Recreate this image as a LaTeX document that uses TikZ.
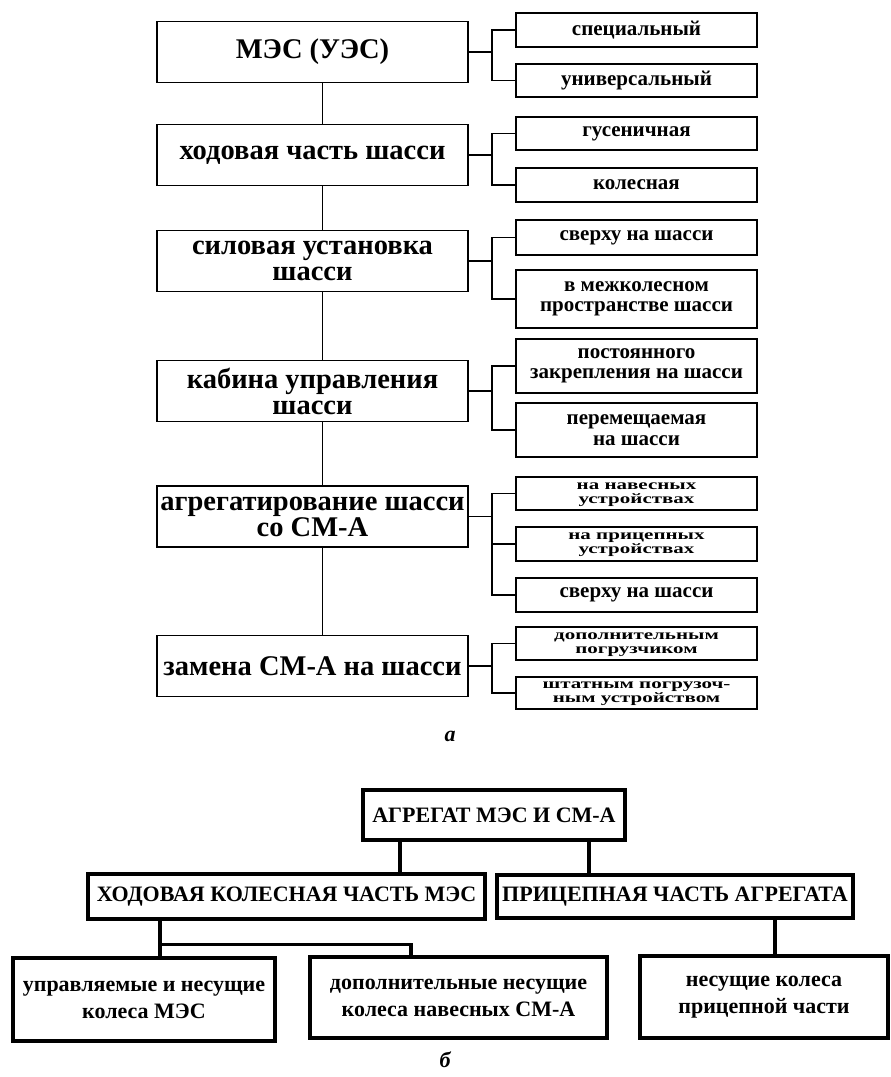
\documentclass[tikz,border=0pt]{standalone}
\usepackage{fontspec}
\setmainfont{Liberation Serif}
\usepackage{graphicx}
\usetikzlibrary{positioning}
\newcommand\squash[1]{\scalebox{1}[0.68]{\begin{tabular}{@{}c@{}}#1\end{tabular}}}

\begin{document}
\begin{tikzpicture}[x=1pt, y=-1pt, line width=1.8pt,
  lb/.style={draw, inner sep=2pt, align=center, minimum width=311pt, minimum height=61pt, font=\fontsize{28.5}{26}\selectfont\bfseries},
  rb/.style={draw, inner sep=1pt, align=center, minimum width=241pt, font=\fontsize{21}{20.5}\selectfont\bfseries},
  ub/.style={draw, line width=3.2pt, inner sep=2pt, align=center, font=\fontsize{22}{22}\selectfont\bfseries},
  kb/.style={draw, line width=3.2pt, inner sep=2pt, align=center, font=\fontsize{22}{27}\selectfont\bfseries},
  figlbl/.style={font=\fontsize{22}{24}\selectfont\bfseries\itshape}]
\useasboundingbox (0,0) rectangle (891,1077);
\node[lb] (mes) at (312.5,52) {МЭС (УЭС)};
\node[lb] (hod) at (312.5,155) {ходовая часть шасси};
\node[lb] (sil) at (312.5,261) {силовая установка\\шасси};
\node[lb] (kab) at (312.5,391) {кабина управления\\шасси};
\node[lb] (agr) at (312.5,516.5) {агрегатирование шасси\\со СМ-А};
\node[lb] (zam) at (312.5,666) {замена СМ-А на шасси};
\node[rb, minimum height=34pt] (spec) at (636.5,30) {специальный};
\node[rb, minimum height=33pt] (univ) at (636.5,80.5) {универсальный};
\node[rb, minimum height=33pt] (gus) at (636.5,133.5) {гусеничная};
\node[rb, minimum height=34pt] (kol) at (636.5,185) {колесная};
\node[rb, minimum height=35pt] (sv1) at (636.5,237.5) {сверху на шасси};
\node[rb, minimum height=58pt] (mez) at (636.5,299) {в межколесном\\пространстве шасси};
\node[rb, minimum height=54pt] (pos) at (636.5,366) {постоянного\\закрепления на шасси};
\node[rb, minimum height=54pt] (per) at (636.5,430) {перемещаемая\\на шасси};
\node[rb, minimum height=33pt] (nav) at (636.5,493.5) {\squash{на навесных\\устройствах}};
\node[rb, minimum height=34pt] (pri) at (636.5,544) {\squash{на прицепных\\устройствах}};
\node[rb, minimum height=34pt] (sv2) at (636.5,595) {сверху на шасси};
\node[rb, minimum height=33pt] (dpg) at (636.5,643.5) {\squash{дополнительным\\погрузчиком}};
\node[rb, minimum height=32pt] (sht) at (636.5,693) {\squash{штатным погрузоч-\\ным устройством}};
\foreach \a/\b in {mes/hod, hod/sil, sil/kab, kab/agr, agr/zam}
  \draw ([xshift=10pt]\a.south) -- ([xshift=10pt]\b.north);
\foreach \a/\b in {mes/spec, mes/univ, hod/gus, hod/kol, sil/sv1, sil/mez, kab/pos, kab/per,
                   agr/nav, agr/pri, agr/sv2, zam/dpg, zam/sht}
  \draw (\a.east) -- ++(23,0) |- (\b.west);
\node[figlbl] (capa) at (450,736) {а};

\node[ub, minimum width=262pt, minimum height=50pt] (agg) at (494,815) {АГРЕГАТ МЭС И СМ-А};
\node[ub, minimum width=397pt, minimum height=45pt] (hkc) at (286.5,896.5) {ХОДОВАЯ КОЛЕСНАЯ ЧАСТЬ МЭС};
\node[ub, minimum width=356pt, minimum height=43pt] (pch) at (675,896.5) {ПРИЦЕПНАЯ ЧАСТЬ АГРЕГАТА};
\node[kb, minimum width=262pt, minimum height=83pt] (upr) at (144,999.5) {управляемые и несущие\\колеса МЭС};
\node[kb, minimum width=297pt, minimum height=81pt] (dnk) at (458.5,997.5) {дополнительные несущие\\колеса навесных СМ-А};
\node[kb, minimum width=248pt, minimum height=82pt] (nkp) at (764,997) {несущие колеса\\прицепной части};
\begin{scope}[line width=3.2pt]
\draw ([xshift=-94pt]agg.south) coordinate (a1) -- (a1 |- hkc.north);
\draw ([xshift=95pt]agg.south) coordinate (a2) -- (a2 |- pch.north);
\draw ([xshift=-126.5pt]hkc.south) coordinate (h1) -- (h1 |- upr.north);
\draw (h1) ++(0,24) -| ([xshift=-47.5pt]dnk.north);
\draw ([xshift=100pt]pch.south) coordinate (p1) -- (p1 |- nkp.north);
\end{scope}
\node[figlbl] (capb) at (445,1060) {б};
\end{tikzpicture}
\end{document}
